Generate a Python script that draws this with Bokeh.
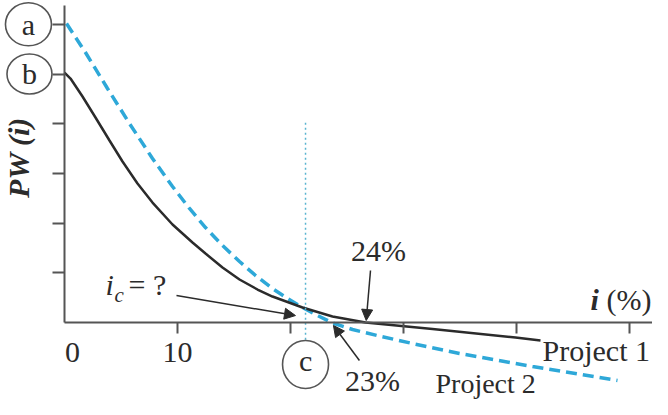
import math
from bokeh.plotting import figure
from bokeh.models import LinearAxis, FixedTicker, Arrow, NormalHead, Range1d
from bokeh.core.properties import value
from bokeh.embed import file_html
from bokeh.resources import INLINE

# ---- data (in axis units) ----
p1_i = [0.000, 0.531, 1.593, 2.743, 3.982, 5.133, 6.460, 7.788, 9.558, 11.327, 12.478,
        13.982, 15.487, 17.080, 18.407, 21.062, 23.717, 26.637, 32.566, 39.912, 42.124]
p1_pw = [5.030, 4.909, 4.547, 4.125, 3.662, 3.239, 2.797, 2.414, 1.972, 1.610, 1.388,
         1.107, 0.865, 0.664, 0.523, 0.302, 0.121, 0.000, -0.131, -0.302, -0.362]
p2_i = [0.177, 1.858, 3.805, 5.752, 7.788, 9.558, 11.062, 12.478, 13.982, 15.487, 16.903,
        18.407, 19.735, 21.062, 22.389, 23.717, 25.487, 27.876, 30.796, 34.956, 41.416, 48.938]
p2_pw = [6.016, 5.433, 4.708, 4.004, 3.300, 2.736, 2.294, 1.911, 1.549, 1.227, 0.946,
         0.684, 0.483, 0.302, 0.141, -0.010, -0.141, -0.272, -0.423, -0.624, -0.885, -1.167]
y_ticks = [1, 2, 3, 4, 5, 6]
x_ticks = [10, 20, 30, 40, 50]
x_tick_labels = {10: "10", 20: "", 30: "", 40: "", 50: ""}
pw_a = 6.0          # intercept of Project 2
pw_b = 5.0          # intercept of Project 1
i_cross = 21.33     # crossover rate i_c
irr_1 = 26.64       # Project 1 crosses zero ("24%")
irr_2 = 23.68       # Project 2 crosses zero ("23%")
label_irr_1 = "24%"
label_irr_2 = "23%"
name_1 = "Project 1"
name_2 = "Project 2"

FONT_NAME = "'Liberation Serif', 'DejaVu Serif', serif"
SERIF = value(FONT_NAME)
AX = "#555555"
INK = "#2b2b2b"
BLUE = "#2ea8d8"

p = figure(width=652, height=399, output_backend="svg", toolbar_location=None,
           x_axis_type=None, y_axis_type=None,
           x_range=Range1d(-5.664, 52.035), y_range=Range1d(-1.549, 6.479),
           min_border=0, min_border_left=0, min_border_right=0,
           min_border_top=0, min_border_bottom=0)
p.outline_line_color = None
p.background_fill_color = "white"

# axes through the origin
yax = LinearAxis(fixed_location=0, bounds=(0, 6.378), ticker=FixedTicker(ticks=y_ticks),
                 axis_line_color=AX, axis_line_width=2, major_tick_line_color=AX,
                 major_tick_line_width=2, major_tick_out=12, major_tick_in=0,
                 minor_tick_out=0, minor_tick_in=0, major_label_text_color=None)
p.add_layout(yax, "left")

xax = LinearAxis(fixed_location=0, bounds=(0, 52.04), ticker=FixedTicker(ticks=x_ticks),
                 axis_line_color=AX, axis_line_width=2, major_tick_line_color=AX,
                 major_tick_line_width=2, major_tick_out=11, major_tick_in=0,
                 minor_tick_out=0, minor_tick_in=0,
                 major_label_overrides=x_tick_labels, major_label_standoff=9,
                 major_label_text_font=FONT_NAME, major_label_text_font_size="30px",
                 major_label_text_color=INK)
p.add_layout(xax, "below")

zax = LinearAxis(fixed_location=0, ticker=FixedTicker(ticks=[0.71]),
                 axis_line_color=None, major_tick_line_color=None,
                 major_tick_out=0, major_tick_in=0, minor_tick_out=0, minor_tick_in=0,
                 major_label_overrides={0.71: "0"}, major_label_standoff=20,
                 major_label_text_font=FONT_NAME, major_label_text_font_size="30px",
                 major_label_text_color=INK)
p.add_layout(zax, "below")

# curves
p.line(p2_i, p2_pw, line_color=BLUE, line_width=3.5, line_dash="11 6")
p.line(p1_i, p1_pw, line_color=INK, line_width=2.5)

# crossover dotted line
p.segment(x0=[i_cross], y0=[4.02], x1=[i_cross], y1=[-0.36],
          line_color="#5ab4d0", line_width=1.5, line_dash="2 3")

# circled labels
p.ellipse(x=[-3.19, -3.10, i_cross], y=[pw_a, pw_b, -0.845], width=[46, 45, 46],
          height=[43, 40, 48], width_units="screen", height_units="screen",
          fill_color="white", line_color=AX, line_width=1.6)
p.text(x=[-3.19, -3.10, i_cross], y=[5.996, 5.01, -0.765], text=["a", "b", "c"],
       text_font=SERIF, text_font_size="30px", text_color=INK,
       text_align="center", text_baseline="middle")

# y axis title
p.text(x=[-4.07], y=[3.32], text=["PW (i)"], angle=math.pi / 2,
       text_font=SERIF, text_font_size="30px", text_font_style="bold italic",
       text_color=INK, text_align="center", text_baseline="middle")

# x axis title
p.text(x=[46.55], y=[0.463], text=["i"], text_font=SERIF, text_font_size="30px",
       text_font_style="bold italic", text_color=INK, text_baseline="middle")
p.text(x=[47.96], y=[0.463], text=["(%)"], text_font=SERIF, text_font_size="30px",
       text_color=INK, text_baseline="middle")

# i_c = ?
p.text(x=[3.63], y=[0.764], text=["i"], text_font=SERIF, text_font_size="30px",
       text_font_style="italic", text_color=INK, text_baseline="middle")
p.text(x=[4.42], y=[0.563], text=["c"], text_font=SERIF, text_font_size="21px",
       text_font_style="italic", text_color=INK, text_baseline="middle")
p.text(x=[5.66], y=[0.764], text=["= ?"], text_font=SERIF, text_font_size="30px",
       text_color=INK, text_baseline="middle")
p.add_layout(Arrow(x_start=9.91, y_start=0.543, x_end=20.44, y_end=0.14,
                   line_color=INK, line_width=1.5,
                   end=NormalHead(size=11, fill_color=INK, line_color=INK)))

# rate labels
p.text(x=[27.79, 27.26], y=[1.449, -1.167], text=[label_irr_1, label_irr_2],
       text_font=SERIF, text_font_size="30px", text_color=INK,
       text_align="center", text_baseline="middle")
p.add_layout(Arrow(x_start=27.08, y_start=1.046, x_end=irr_1 + 0.06, y_end=0.04,
                   line_color=INK, line_width=1.5,
                   end=NormalHead(size=11, fill_color=INK, line_color=INK)))
p.add_layout(Arrow(x_start=26.1, y_start=-0.765, x_end=irr_2 + 0.12, y_end=-0.06,
                   line_color=INK, line_width=1.5,
                   end=NormalHead(size=11, fill_color=INK, line_color=INK)))

# project names
p.text(x=[42.3], y=[-0.563], text=[name_1],
       text_font=SERIF, text_font_size="30px", text_color=INK,
       text_align="left", text_baseline="middle")
p.text(x=[32.83], y=[-1.227], text=[name_2],
       text_font=SERIF, text_font_size="28px", text_color=INK,
       text_align="left", text_baseline="middle")

open("out.html", "w").write(file_html(p, INLINE))
